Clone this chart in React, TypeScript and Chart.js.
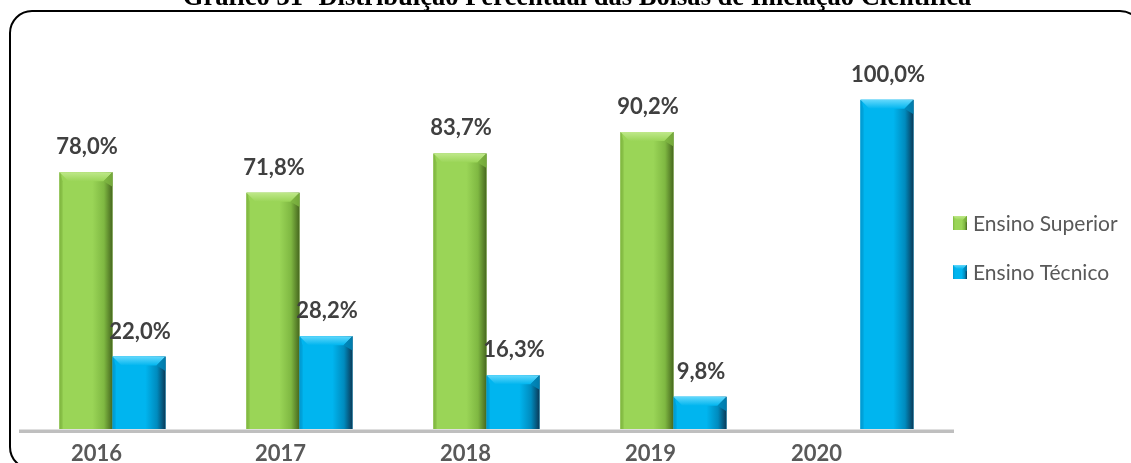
import { useEffect, useRef } from "react";
import { Chart, registerables } from "chart.js";

Chart.register(...registerables);

// ---- data ----
const years = ["2016", "2017", "2018", "2019", "2020"];
const superior: (number | null)[] = [78.0, 71.8, 83.7, 90.2, null];
const tecnico: (number | null)[] = [22.0, 28.2, 16.3, 9.8, 100.0];
const seriesNames = ["Ensino Superior", "Ensino Técnico"];
const chartTitle = "Gráfico 31- Distribuição Percentual das Bolsas de Iniciação Científica";

// ---- styling ----
const yearNudge = [-16, -19, -21, -23, -44];
const palettes = [
  { main: "#9AD557", light: "#BFE88A", left: "#7EB53F", mid: "#7FB842", dark: "#46671E" },
  { main: "#00B5EF", light: "#62D8FC", left: "#0099D0", mid: "#008BBE", dark: "#0A3957" },
];

function fmt(v: number) {
  return v.toFixed(1).replace(".", ",") + "%";
}

function bevelRect(ctx: CanvasRenderingContext2D, x0: number, y0: number, x1: number, y1: number, p: any, b: number) {
  const w = x1 - x0;
  const h = y1 - y0;
  if (w <= 0 || h <= 0) return;
  const g = ctx.createLinearGradient(x0, 0, x1, 0);
  g.addColorStop(0, p.left);
  g.addColorStop(0.05, p.main);
  g.addColorStop(0.62, p.main);
  g.addColorStop(0.84, p.mid);
  g.addColorStop(1, p.dark);
  ctx.fillStyle = g;
  ctx.fillRect(x0, y0, w, h);
  const bb = Math.min(b, h / 2, w / 2);
  // top bevel
  const gt = ctx.createLinearGradient(0, y0, 0, y0 + bb);
  gt.addColorStop(0, p.light);
  gt.addColorStop(1, p.main);
  ctx.fillStyle = gt;
  ctx.beginPath();
  ctx.moveTo(x0, y0);
  ctx.lineTo(x1, y0);
  ctx.lineTo(x1 - bb, y0 + bb);
  ctx.lineTo(x0 + bb, y0 + bb);
  ctx.closePath();
  ctx.fill();
  // right bevel corner (darker)
  ctx.fillStyle = p.mid;
  ctx.globalAlpha = 0.8;
  ctx.beginPath();
  ctx.moveTo(x1, y0);
  ctx.lineTo(x1, y0 + bb * 1.6);
  ctx.lineTo(x1 - bb, y0 + bb);
  ctx.closePath();
  ctx.fill();
  ctx.globalAlpha = 1;
  // left thin edge
  ctx.fillStyle = p.left;
  ctx.globalAlpha = 0.6;
  ctx.beginPath();
  ctx.moveTo(x0, y0);
  ctx.lineTo(x0 + bb * 0.35, y0 + bb);
  ctx.lineTo(x0 + bb * 0.35, y1);
  ctx.lineTo(x0, y1);
  ctx.closePath();
  ctx.fill();
  ctx.globalAlpha = 1;
}

const decor = {
  id: "decor",
  beforeDatasetsDraw(chart: any) {
    const { ctx, chartArea } = chart;
    ctx.save();
    ctx.fillStyle = "#BFBFBF";
    ctx.fillRect(chartArea.left, chartArea.bottom + 0.5, chartArea.right - chartArea.left, 3.5);
    ctx.restore();
  },
  afterDatasetsDraw(chart: any) {
    const { ctx } = chart;
    ctx.save();
    chart.data.datasets.forEach((ds: any, di: number) => {
      const meta = chart.getDatasetMeta(di);
      meta.data.forEach((el: any, j: number) => {
        const v = ds.data[j];
        if (v == null) return;
        const x0 = el.x - el.width / 2;
        const x1 = el.x + el.width / 2;
        bevelRect(ctx, x0, el.y, x1, el.base, palettes[di], 9);
      });
    });
    // data labels
    ctx.font = 'bold 22px Lato';
    ctx.fillStyle = "#404040";
    ctx.textAlign = "center";
    ctx.textBaseline = "alphabetic";
    chart.data.datasets.forEach((ds: any, di: number) => {
      const meta = chart.getDatasetMeta(di);
      meta.data.forEach((el: any, j: number) => {
        const v = ds.data[j];
        if (v == null) return;
        ctx.fillText(fmt(v), el.x + 1, el.y - 18);
      });
    });
    ctx.restore();
  },
  afterDraw(chart: any) {
    const { ctx, scales } = chart;
    ctx.save();
    // category labels
    ctx.font = 'bold 22px Lato';
    ctx.fillStyle = "#595959";
    ctx.textAlign = "center";
    ctx.textBaseline = "alphabetic";
    years.forEach((y, i) => {
      ctx.fillText(y, scales.x.getPixelForValue(i) + yearNudge[i], 461);
    });
    // legend
    ctx.font = '21px Lato';
    ctx.textAlign = "left";
    ctx.textBaseline = "middle";
    seriesNames.forEach((name, i) => {
      const cy = 223 + i * 49;
      bevelRect(ctx, 953, cy - 7, 967, cy + 7, palettes[i], 4);
      ctx.fillStyle = "#595959";
      ctx.fillText(name, 973, cy + 1);
    });
    // frame
    ctx.strokeStyle = "#000000";
    ctx.lineWidth = 2;
    ctx.beginPath();
    (ctx as any).roundRect(10, 11, 1132, 458, 22);
    ctx.stroke();
    // title (clipped at top like the source)
    ctx.fillStyle = "#000000";
    ctx.textAlign = "center";
    ctx.textBaseline = "alphabetic";
    ctx.font = 'bold 21px "Liberation Serif"';
    const w = ctx.measureText(chartTitle).width;
    const size = (21 * 789) / w;
    ctx.font = `bold ${size.toFixed(2)}px "Liberation Serif"`;
    ctx.fillText(chartTitle, 577, 5);
    ctx.restore();
  },
};

export default function App() {
  const ref = useRef<HTMLCanvasElement>(null);
  useEffect(() => {
    if (!ref.current) return;
    const chart = new Chart(ref.current, {
      type: "bar",
      data: {
        labels: years,
        datasets: [
          { label: seriesNames[0], data: superior, backgroundColor: palettes[0].main, borderWidth: 0 },
          { label: seriesNames[1], data: tecnico, backgroundColor: palettes[1].main, borderWidth: 0 },
        ],
      },
      options: {
        animation: false,
        responsive: true,
        maintainAspectRatio: false,
        layout: { padding: { left: 19, right: 177, top: 34, bottom: 34 } },
        datasets: { bar: { categoryPercentage: 0.567, barPercentage: 1 } },
        scales: {
          x: { display: false, grid: { display: false } },
          y: { display: false, min: 0, max: 120 },
        },
        plugins: {
          legend: { display: false },
          title: { display: false },
          tooltip: { enabled: false },
        },
      },
      plugins: [decor],
    });
    return () => chart.destroy();
  }, []);
  return (
    <div style={{ position: "fixed", left: 0, top: 0, width: 1131, height: 463, background: "#fff" }}>
      <canvas ref={ref} />
    </div>
  );
}
